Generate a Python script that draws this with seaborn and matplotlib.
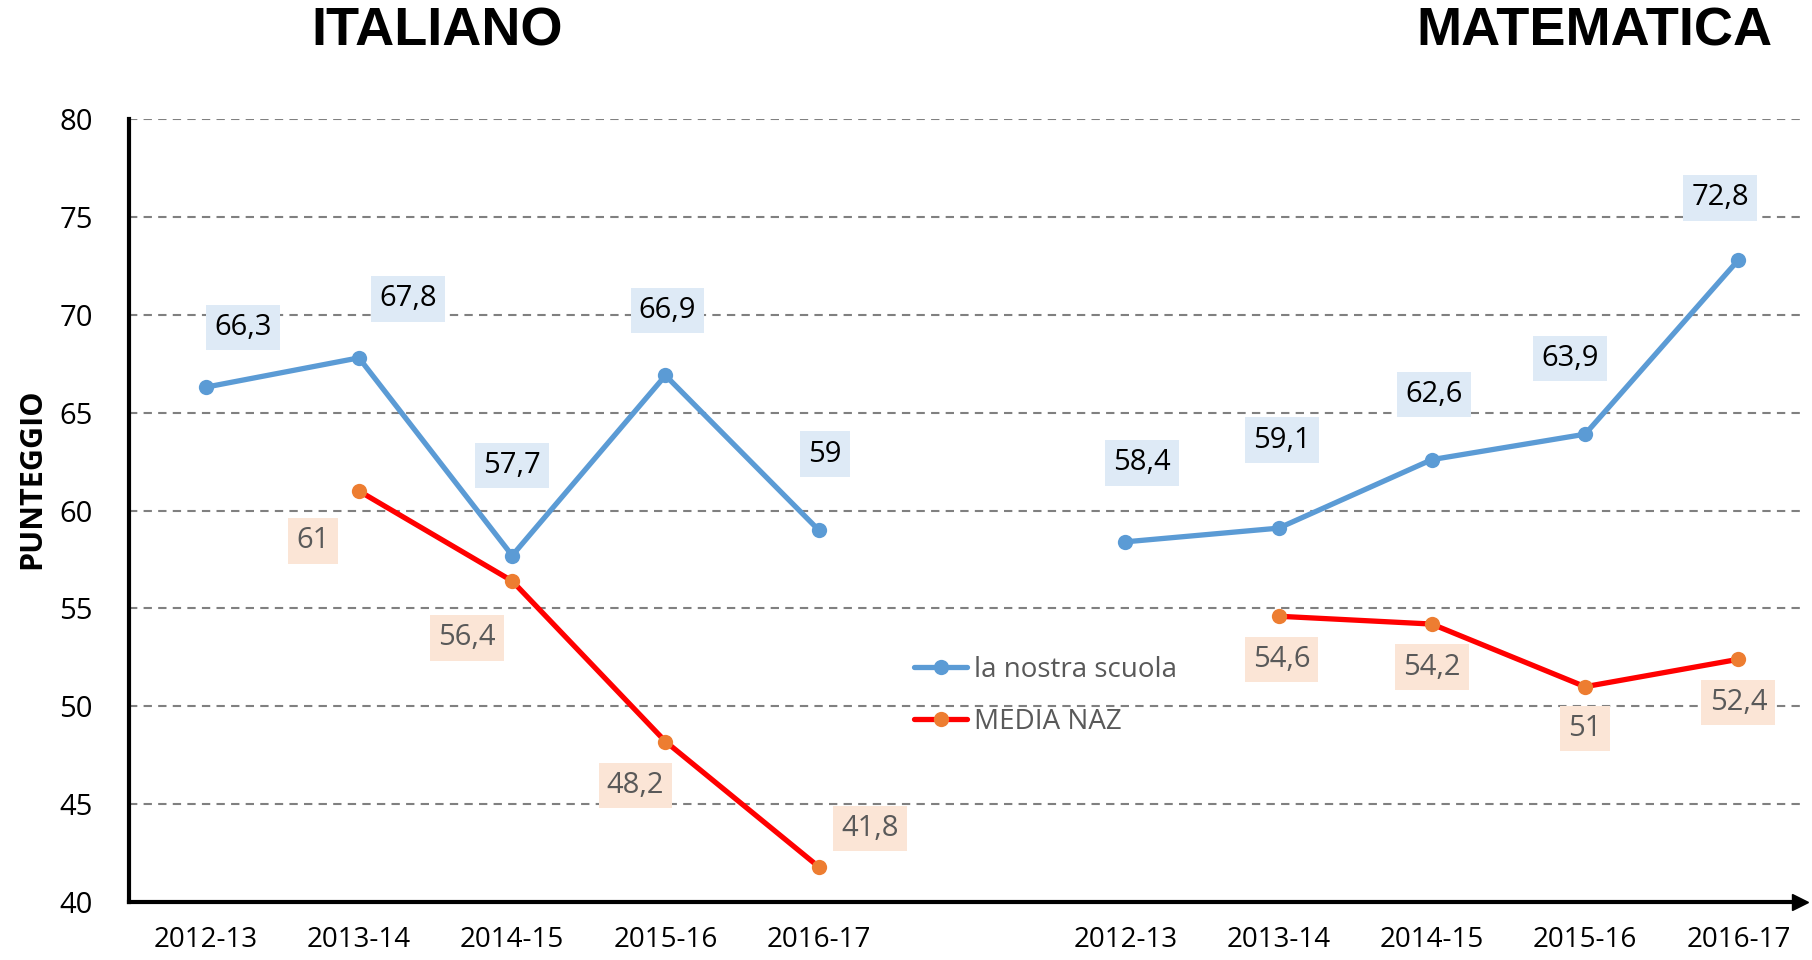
import numpy as np
import pandas as pd
import matplotlib.pyplot as plt
import seaborn as sns
from matplotlib.lines import Line2D

# Dati
anni = ['2012-13', '2013-14', '2014-15', '2015-16', '2016-17']
scuola_ita = [66.3, 67.8, 57.7, 66.9, 59.0]
naz_ita = [np.nan, 61.0, 56.4, 48.2, 41.8]
scuola_mat = [58.4, 59.1, 62.6, 63.9, 72.8]
naz_mat = [np.nan, 54.6, 54.2, 51.0, 52.4]

# offset delle etichette (pixel) rispetto al punto
off_scuola_ita = [(37, 60), (49, 59), (0, 90), (2, 65), (6, 76)]
off_naz_ita = [None, (-46, -50), (-45, -57), (-30, -44), (51, 38)]
off_scuola_mat = [(17, 79), (3, 88), (2, 65), (-15, 76), (-18, 62)]
off_naz_mat = [None, (3, -43), (0, -43), (0, -42), (0, -43)]

BLU = '#5B9BD5'
ROSSO = '#FF0000'
ARANCIO = '#ED7D31'
GRIGIO = '#595959'

sns.set_style('white')
plt.rcParams['font.family'] = ['Open Sans', 'DejaVu Sans']
plt.rcParams['text.color'] = 'black'
plt.rcParams['axes.labelcolor'] = 'black'
plt.rcParams['xtick.color'] = 'black'
plt.rcParams['ytick.color'] = 'black'

fig = plt.figure(figsize=(18.12, 9.6), dpi=100)
ax = fig.add_axes([0.0712, 0.0604, 0.922, 0.8156])

pos_ita = np.arange(5)
pos_mat = np.arange(6, 11)

df = pd.DataFrame({
    'pos': np.concatenate([pos_ita, pos_mat]),
    'scuola': scuola_ita + scuola_mat,
    'naz': naz_ita + naz_mat,
    'gruppo': ['ITA'] * 5 + ['MAT'] * 5,
})

for g in ['ITA', 'MAT']:
    d = df[df['gruppo'] == g]
    sns.lineplot(data=d, x='pos', y='scuola', ax=ax, color=BLU, lw=3.8,
                 marker='o', markersize=11, markeredgewidth=0,
                 markerfacecolor=BLU)
    sns.lineplot(data=d.dropna(), x='pos', y='naz', ax=ax, color=ROSSO, lw=3.8,
                 marker='o', markersize=11, markeredgewidth=0,
                 markerfacecolor=ARANCIO)


def etichette(pos, valori, offset, fc, tc):
    for x, v, o in zip(pos, valori, offset):
        if o is None or np.isnan(v):
            continue
        testo = f'{v:g}'.replace('.', ',')
        ax.annotate(testo, (x, v), xytext=o, textcoords='offset pixels',
                    ha='center', va='center', fontsize=21, color=tc,
                    bbox=dict(boxstyle='square,pad=0.28', fc=fc, ec='none'),
                    zorder=5)


etichette(pos_ita, scuola_ita, off_scuola_ita, '#DEEAF6', 'black')
etichette(pos_mat, scuola_mat, off_scuola_mat, '#DEEAF6', 'black')
etichette(pos_ita, naz_ita, off_naz_ita, '#FBE5D6', GRIGIO)
etichette(pos_mat, naz_mat, off_naz_mat, '#FBE5D6', GRIGIO)

ax.set_xlim(-0.5, 10.4)
ax.set_ylim(40, 80)
ax.set_yticks(range(40, 81, 5))
ax.set_xticks(list(pos_ita) + list(pos_mat))
ax.set_xticklabels(anni + anni)
ax.tick_params(axis='both', length=0, labelsize=21)
ax.tick_params(axis='x', labelsize=20, pad=17)
ax.tick_params(axis='y', pad=26)
ax.set_xlabel('')
ax.set_ylabel('PUNTEGGIO', fontsize=22, fontweight='bold')
ax.yaxis.set_label_coords(-0.049, 0.54)

ax.yaxis.grid(True, linestyle=(0, (4, 3)), color='#808080', lw=1.5)
ax.set_axisbelow(True)
for s in ['top', 'right']:
    ax.spines[s].set_visible(False)
for s in ['left', 'bottom']:
    ax.spines[s].set_linewidth(3)
    ax.spines[s].set_color('black')
ax.plot(1, 0, '>', transform=ax.transAxes, color='black', markersize=12,
        clip_on=False)

fig.text(0.241, 0.967, 'ITALIANO', ha='center', va='center', fontsize=39,
         fontweight='heavy', family='Liberation Sans', color='black')
fig.text(0.880, 0.967, 'MATEMATICA', ha='center', va='center', fontsize=39,
         fontweight='heavy', family='Liberation Sans', color='black')

maniglie = [
    Line2D([], [], color=BLU, lw=3.8, marker='o', markersize=11,
           markeredgewidth=0, markerfacecolor=BLU),
    Line2D([], [], color=ROSSO, lw=3.8, marker='o', markersize=11,
           markeredgewidth=0, markerfacecolor=ARANCIO),
]
leg = ax.legend(maniglie, ['la nostra scuola', 'MEDIA NAZ'],
                loc='center left', bbox_to_anchor=(0.497, 0.275),
                bbox_transform=fig.transFigure, frameon=False, fontsize=20,
                handlelength=1.9, handletextpad=0.25, labelspacing=0.85,
                borderpad=0)
for t in leg.get_texts():
    t.set_color(GRIGIO)

fig.savefig('out.png', dpi=100)
